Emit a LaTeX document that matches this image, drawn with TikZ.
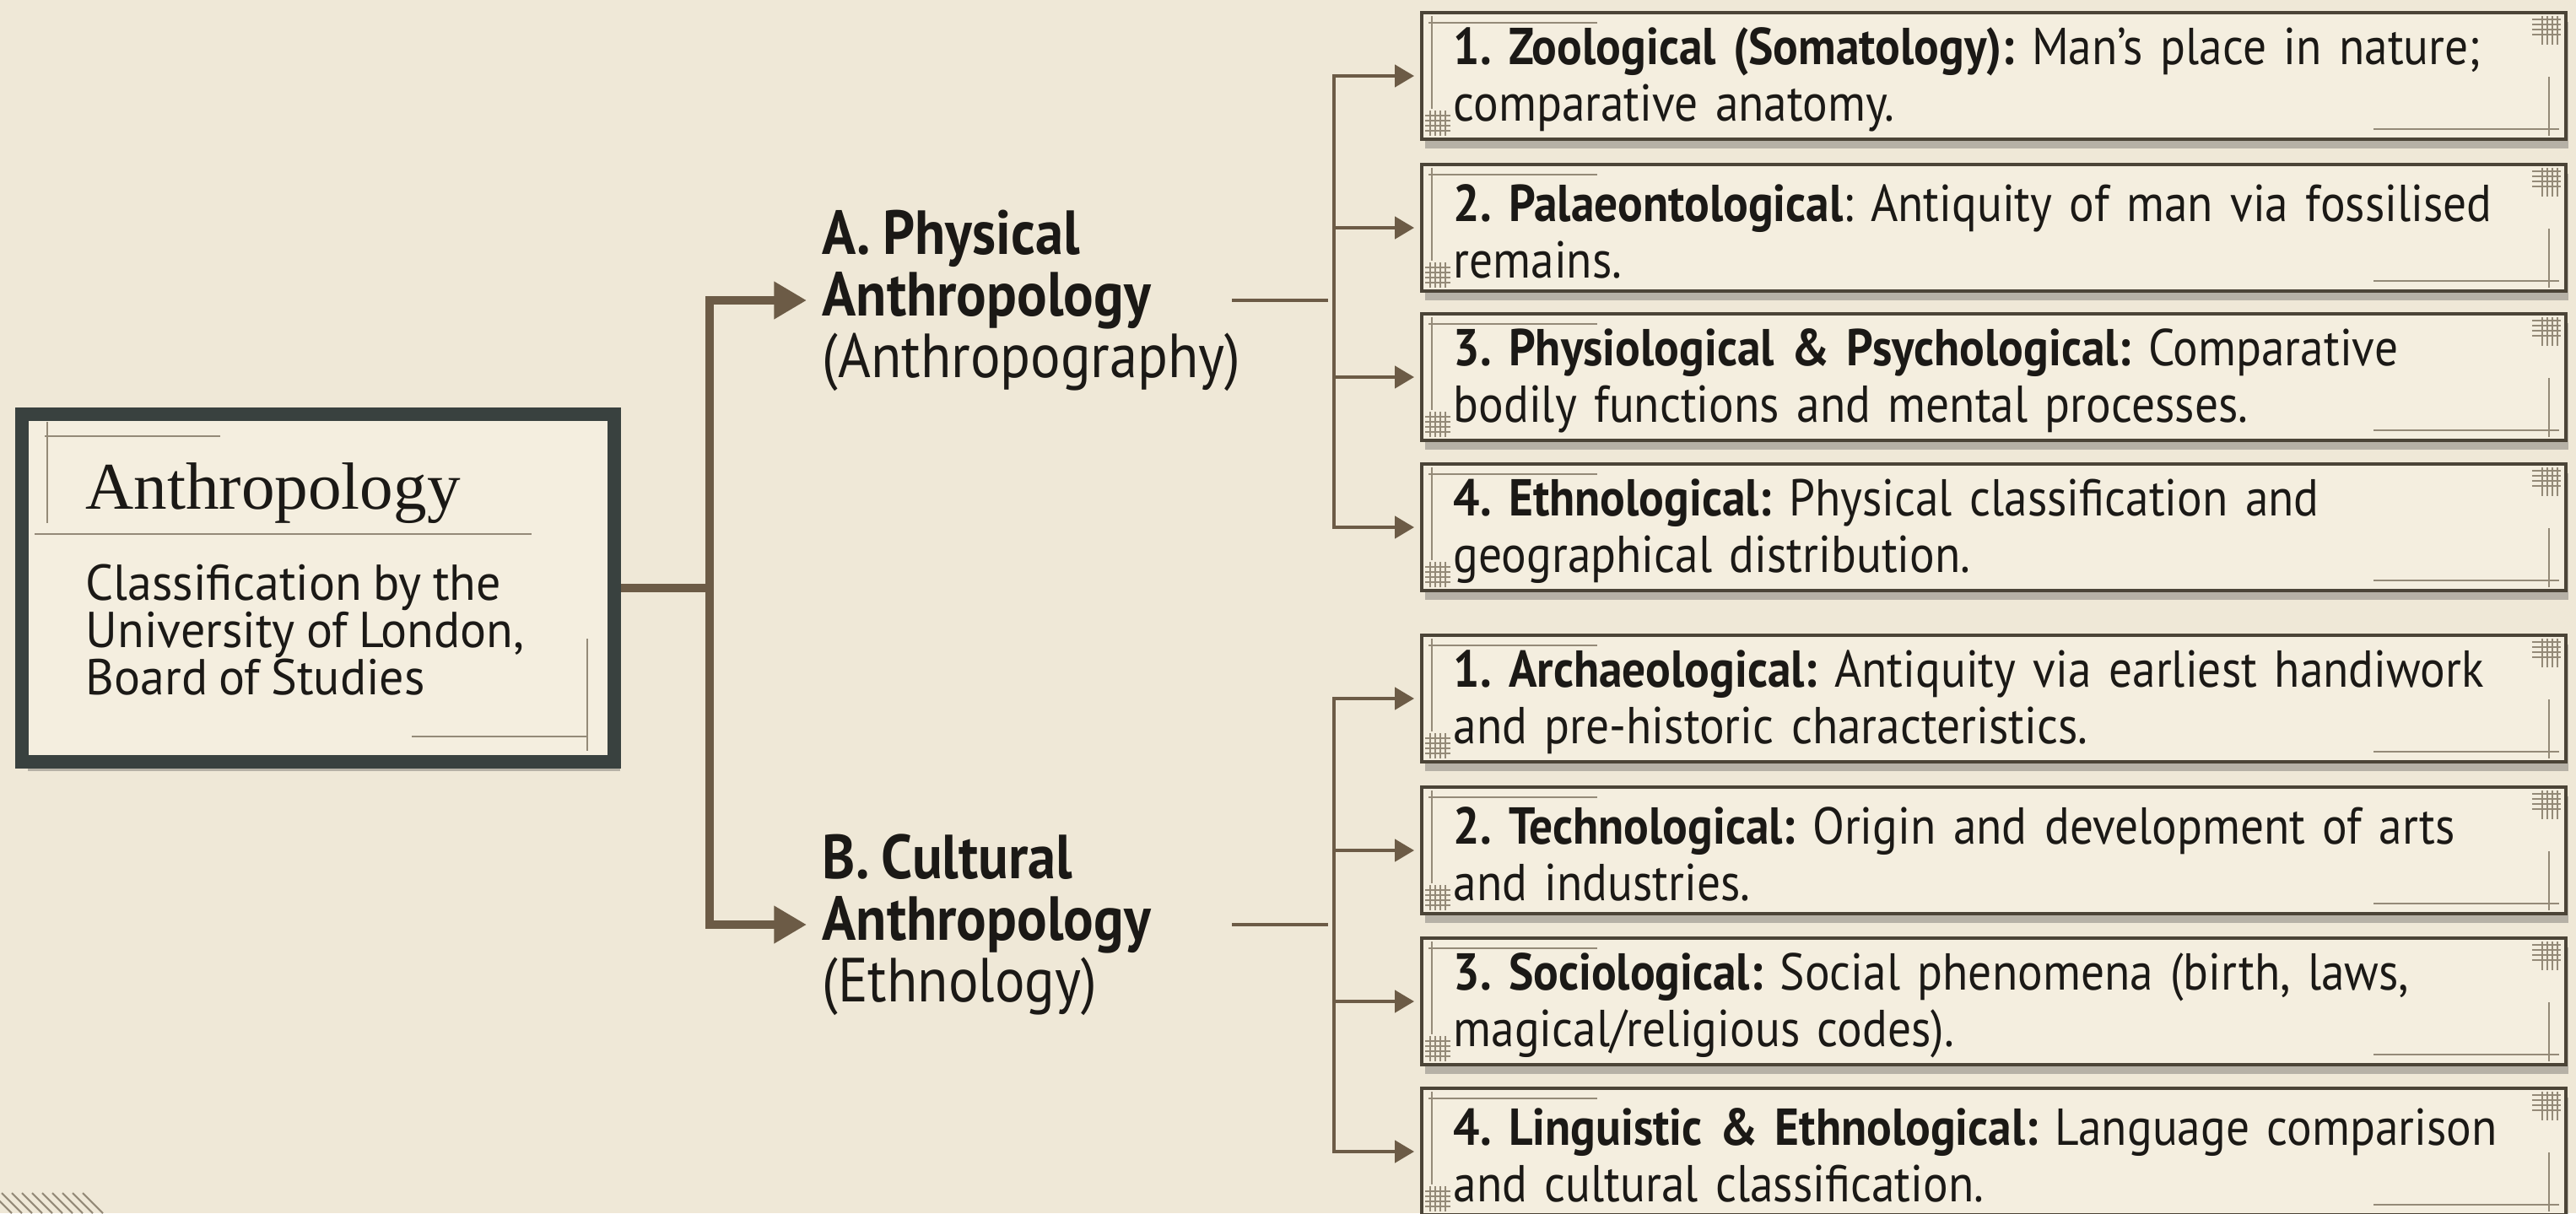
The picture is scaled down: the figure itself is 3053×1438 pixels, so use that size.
\documentclass[tikz,border=0pt]{standalone}
\usepackage{fontspec}
\setmainfont{PT Sans}[FakeStretch=0.9,WordSpace=0.85]
\newfontfamily\serifhead{Liberation Serif}
\usetikzlibrary{arrows.meta,shadows}
\definecolor{paper}{HTML}{EFE8D7}
\definecolor{card}{HTML}{F4EEDF}
\definecolor{cardline}{HTML}{4B4437}
\definecolor{frame}{HTML}{39413F}
\definecolor{stem}{HTML}{6C5B46}
\definecolor{orn}{HTML}{948A78}
\definecolor{ink}{HTML}{1B1916}
\frenchspacing
\newcommand{\tightlines}{\lineskiplimit=-10pt\relax}
\tikzset{
  ornline/.style = {draw=orn, line width=0.6pt},
  ornament/.style = {path picture={
      \draw[ornline] ([shift={(8,12)}]path picture bounding box.north west) -- ++(200,0);
      \draw[ornline] ([shift={(12,4)}]path picture bounding box.north west) -- ++(0,110);
      \draw[ornline] ([shift={(-8,-12)}]path picture bounding box.south east) -- ++(-220,0);
      \draw[ornline] ([shift={(-20,-4)}]path picture bounding box.south east) -- ++(0,-70);
      \foreach \k in {0,6,12,18} {
        \draw[ornline] ([shift={(-10-\k,4)}]path picture bounding box.north east) -- ++(0,34);
        \draw[ornline] ([shift={(-40,8+\k)}]path picture bounding box.north east) -- ++(34,0);
        \draw[ornline] ([shift={(10+\k,-4)}]path picture bounding box.south west) -- ++(0,-30);
        \draw[ornline] ([shift={(4,-10-\k)}]path picture bounding box.south west) -- ++(30,0);
      }
    }},
  leaf/.style = {draw=cardline, line width=1.2pt, fill=card, text=ink,
    minimum width=13.55cm, minimum height=1.5cm, text width=12.8cm,
    inner xsep=0.37cm, inner ysep=0pt, align=left,
    font=\fontsize{17.5}{19}\selectfont\tightlines,
    execute at begin node={\rule{0pt}{15pt}},
    drop shadow={shadow xshift=1pt, shadow yshift=-3pt, opacity=0.35, fill=black!70},
    ornament},
  rootbox/.style = {draw=frame, line width=4.5pt, fill=card,
    minimum width=7.01cm, minimum height=4.12cm,
    drop shadow={shadow xshift=2pt, shadow yshift=-3pt, opacity=0.35, fill=black!70}},
  branch/.style = {anchor=west, align=left, inner xsep=0.18cm, inner ysep=0pt,
    text=ink, font=\fontsize{21}{20.8}\selectfont\tightlines},
  trunk/.style = {draw=stem, line width=2.8pt},
  twig/.style = {draw=stem, line width=0.9pt, shorten >=2pt},
  bigtip/.style = {-{Triangle[length=11pt,width=12pt]}},
  smalltip/.style = {-{Triangle[length=6.5pt,width=7.5pt]}}
}

\begin{document}
\begin{tikzpicture}[x=0.01cm,y=-0.01cm]
    \useasboundingbox (0,0) rectangle (3053,1438);
    \fill[paper] (0,0) rectangle (3053,1438);
    \foreach \i in {0,...,9}
        \draw[ornline] (\i*12-10,1414) -- ++(24,24);

    % root card
    \node[rootbox] (root) at (377,697) {};
    \node[anchor=base west, inner sep=0pt, text=ink, font=\serifhead\fontsize{22.5}{26}\selectfont]
        (roottitle) at (101,603) {Anthropology};
    \node[anchor=north west, inner sep=0pt, align=left, text=ink,
          font=\addfontfeatures{FakeStretch=0.97}\fontsize{17}{16}\selectfont\tightlines]
        (rootnote) at (101,668) {Classification by the\\University of London,\\Board of Studies};
    \draw[ornline] (41,633) -- (630,633);
    \draw[ornline] (53,517) -- (261,517);
    \draw[ornline] (56,500) -- (56,620);
    \draw[ornline] (488,873) -- (696,873);
    \draw[ornline] (696,757) -- (696,890);

    % the two branches
    \node[branch] (physA) at (956,356) {\textbf{A. Physical}\\\textbf{Anthropology}\\(Anthropography)};
    \node[branch] (cultB) at (956,1096) {\textbf{B. Cultural}\\\textbf{Anthropology}\\(Ethnology)};

    % sub-branches
    \node[leaf] (a1) at (2363,90)  {\textbf{1. Zoological (Somatology):} Man’s place in nature;\\comparative anatomy.};
    \node[leaf] (a2) at (2363,270) {\textbf{2. Palaeontological}: Antiquity of man via fossilised\\remains.};
    \node[leaf] (a3) at (2363,447) {\textbf{3. Physiological \& Psychological:} Comparative\\bodily functions and mental processes.};
    \node[leaf] (a4) at (2363,625) {\textbf{4. Ethnological:} Physical classification and\\geographical distribution.};
    \node[leaf] (b1) at (2363,828) {\textbf{1. Archaeological:} Antiquity via earliest handiwork\\and pre-historic characteristics.};
    \node[leaf] (b2) at (2363,1008) {\textbf{2. Technological:} Origin and development of arts\\and industries.};
    \node[leaf] (b3) at (2363,1187) {\textbf{3. Sociological:} Social phenomena (birth, laws,\\magical/religious codes).};
    \node[leaf] (b4) at (2363,1365) {\textbf{4. Linguistic \& Ethnological:} Language comparison\\and cultural classification.};

    % connectors
    \draw[trunk] (root.east) -- (841,697) coordinate (fork);
    \draw[trunk,bigtip] (fork) |- (physA.west);
    \draw[trunk,bigtip] (fork) |- (cultB.west);

    \coordinate (stubA) at (1460,356);
    \coordinate (stubB) at (1460,1096);
    \draw[twig] (stubA) -- (1581,356) coordinate (forkA);
    \draw[twig] (stubB) -- (1581,1096) coordinate (forkB);
    \foreach \n in {a1,a2,a3,a4}
        \draw[twig,smalltip] (forkA) |- (\n.west);
    \foreach \n in {b1,b2,b3,b4}
        \draw[twig,smalltip] (forkB) |- (\n.west);
\end{tikzpicture}
\end{document}
